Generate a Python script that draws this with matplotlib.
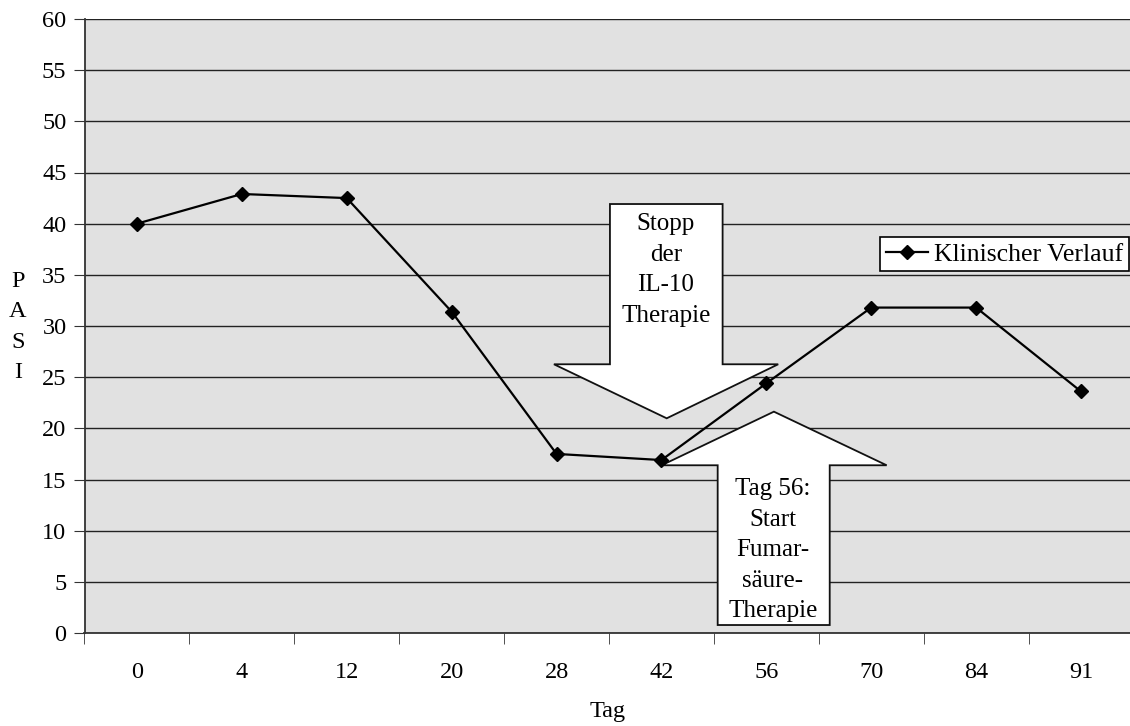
import matplotlib
matplotlib.use("Agg")
import matplotlib.pyplot as plt
from matplotlib.patches import Polygon

plt.rcParams['font.family'] = ['Liberation Serif', 'DejaVu Serif']

# Daten
tage = ['0', '4', '12', '20', '28', '42', '56', '70', '84', '91']
pasi = [40.0, 42.9, 42.5, 31.4, 17.5, 16.9, 24.4, 31.8, 31.8, 23.6]
serie = 'Klinischer Verlauf'
pfeil_oben_text = 'Stopp\nder\nIL-10\nTherapie'
pfeil_unten_text = 'Tag 56:\nStart\nFumar-\nsäure-\nTherapie'

W, H = 1130, 726
fig = plt.figure(figsize=(W / 100, H / 100), dpi=100)
fig.patch.set_facecolor('white')

# plot area in pixels: left 84.5, right 1133.5, top 19, bottom 633
ax = fig.add_axes([84.5 / W, 1 - 633 / H, (1133.5 - 84.5) / W, (633 - 19) / H])
ax.set_facecolor('#e1e1e1')

x = list(range(len(tage)))
ax.plot(x, pasi, color='black', lw=1.6, marker='D', ms=7, zorder=5, label=serie)

ax.set_xlim(-0.5, len(tage) - 0.5)
ax.set_ylim(0, 60)
ax.set_yticks(range(0, 61, 5))
ax.set_xticks(x)
ax.set_xticklabels(tage)
ax.set_xticks([i - 0.5 for i in range(len(tage) + 1)], minor=True)
ax.tick_params(axis='x', which='major', length=0, pad=21, labelsize=17.5)
ax.tick_params(axis='x', which='minor', length=8, direction='out', color='#333333')
ax.tick_params(axis='y', length=8, direction='out', labelsize=17.5, pad=5, color='#333333')

ax.yaxis.grid(True, color='#222222', lw=1.0, zorder=1)
ax.set_axisbelow(True)
for s in ['top', 'right']:
    ax.spines[s].set_visible(False)
for s in ['left', 'bottom']:
    ax.spines[s].set_color('#333333')
    ax.spines[s].set_linewidth(1.3)

# Pfeile (Annotationen)
pfeil1 = [(4.509, 41.92), (5.583, 41.92), (5.583, 26.26), (6.113, 26.26),
          (5.050, 20.98), (3.975, 26.26), (4.509, 26.26)]
pfeil2 = [(6.072, 21.63), (7.147, 16.39), (6.604, 16.39), (6.604, 0.78),
          (5.536, 0.78), (5.536, 16.39), (5.002, 16.39)]
for pts in (pfeil1, pfeil2):
    ax.add_patch(Polygon(pts, closed=True, facecolor='white', edgecolor='#111111',
                         lw=1.3, zorder=3))

ax.text(5.043, 41.0, pfeil_oben_text, ha='center', va='top', fontsize=18,
        linespacing=1.5, zorder=4)
ax.text(6.063, 15.1, pfeil_unten_text, ha='center', va='top', fontsize=18,
        linespacing=1.5, zorder=4)

leg = ax.legend(loc='upper left', bbox_to_anchor=(880 / W, 1 - 237 / H),
                bbox_transform=fig.transFigure, borderaxespad=0, fontsize=18.5,
                frameon=True, fancybox=False, framealpha=1, handlelength=1.65,
                handletextpad=0.25, borderpad=0.22)
leg.get_frame().set_edgecolor('black')
leg.get_frame().set_linewidth(1.2)

# y-Achsenbeschriftung als gestapelte Buchstaben
fig.text(18 / W, 1 - 327 / H, 'P\nA\nS\nI', ha='center', va='center',
         fontsize=17.5, linespacing=1.57)
fig.text(608 / W, 1 - 712 / H, 'Tag', ha='center', va='center', fontsize=17.5)

fig.savefig('out.png', dpi=100)
